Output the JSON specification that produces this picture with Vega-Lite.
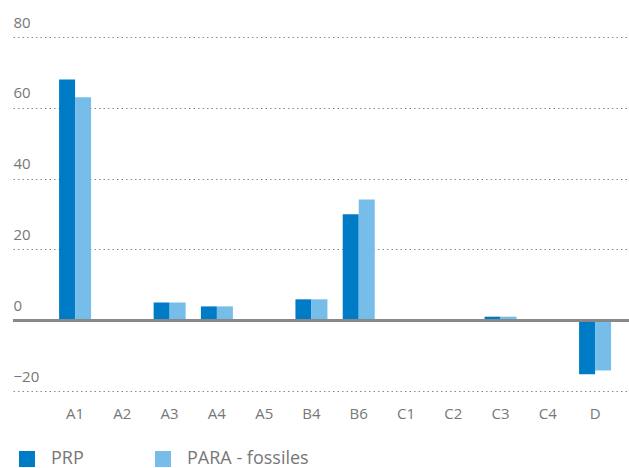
{
  "$schema": "https://vega.github.io/schema/vega-lite/v6.json",
  "width": 616,
  "height": 354,
  "autosize": {"type": "none"},
  "padding": {"left": 13, "top": 37, "right": 0, "bottom": 77},
  "background": "white",
  "config": {
    "view": {"stroke": null},
    "font": "Open Sans"
  },
  "data": {
    "values": [
      {"cat": "A1", "series": "PRP", "value": 68},
      {"cat": "A1", "series": "PARA - fossiles", "value": 63},
      {"cat": "A2", "series": "PRP", "value": 0},
      {"cat": "A2", "series": "PARA - fossiles", "value": 0},
      {"cat": "A3", "series": "PRP", "value": 5},
      {"cat": "A3", "series": "PARA - fossiles", "value": 5},
      {"cat": "A4", "series": "PRP", "value": 3.9},
      {"cat": "A4", "series": "PARA - fossiles", "value": 3.9},
      {"cat": "A5", "series": "PRP", "value": 0},
      {"cat": "A5", "series": "PARA - fossiles", "value": 0},
      {"cat": "B4", "series": "PRP", "value": 5.9},
      {"cat": "B4", "series": "PARA - fossiles", "value": 5.9},
      {"cat": "B6", "series": "PRP", "value": 29.9},
      {"cat": "B6", "series": "PARA - fossiles", "value": 34.1},
      {"cat": "C1", "series": "PRP", "value": 0},
      {"cat": "C1", "series": "PARA - fossiles", "value": 0},
      {"cat": "C2", "series": "PRP", "value": 0.1},
      {"cat": "C2", "series": "PARA - fossiles", "value": 0.1},
      {"cat": "C3", "series": "PRP", "value": 1},
      {"cat": "C3", "series": "PARA - fossiles", "value": 1},
      {"cat": "C4", "series": "PRP", "value": 0.1},
      {"cat": "C4", "series": "PARA - fossiles", "value": 0.1},
      {"cat": "D", "series": "PRP", "value": -15.3},
      {"cat": "D", "series": "PARA - fossiles", "value": -14.2}
    ]
  },
  "layer": [
    {
      "mark": {"type": "bar"},
      "encoding": {
        "x": {
          "field": "cat",
          "type": "nominal",
          "sort": null,
          "scale": {"paddingInner": 0.323, "paddingOuter": 0.677, "align": 0.72},
          "axis": {
            "title": null,
            "domain": false,
            "ticks": false,
            "labelAngle": 0,
            "labelPadding": 15,
            "labelFontSize": 15,
            "labelColor": "#777777",
            "labelFont": "Open Sans"
          }
        },
        "xOffset": {"field": "series", "type": "nominal", "sort": ["PRP", "PARA - fossiles"]},
        "y": {
          "field": "value",
          "type": "quantitative",
          "scale": {"domain": [-20, 80], "nice": false},
          "axis": {
            "title": null,
            "values": [-20, 0, 20, 40, 60, 80],
            "domain": false,
            "ticks": false,
            "labelAlign": "left",
            "labelBaseline": "alphabetic",
            "labelPadding": 0,
            "labelOffset": -10,
            "labelFontSize": 15,
            "labelColor": "#777777",
            "labelFont": "Open Sans",
            "grid": true,
            "gridColor": "#888888",
            "gridDash": [1.5, 3],
            "gridWidth": 1
          }
        },
        "color": {
          "field": "series",
          "type": "nominal",
          "sort": ["PRP", "PARA - fossiles"],
          "scale": {"domain": ["PRP", "PARA - fossiles"], "range": ["#007cc6", "#77bde9"]},
          "legend": {
            "title": null,
            "orient": "none",
            "legendX": 5,
            "legendY": 413,
            "direction": "horizontal",
            "columns": 2,
            "columnPadding": 70,
            "symbolType": "square",
            "symbolSize": 256,
            "symbolStrokeWidth": 0,
            "labelOffset": 15,
            "labelFontSize": 18,
            "labelColor": "#777777",
            "labelFont": "Open Sans"
          }
        }
      }
    },
    {
      "mark": {"type": "rule", "color": "#888888", "strokeWidth": 2},
      "encoding": {"y": {"datum": 0}}
    }
  ]
}
